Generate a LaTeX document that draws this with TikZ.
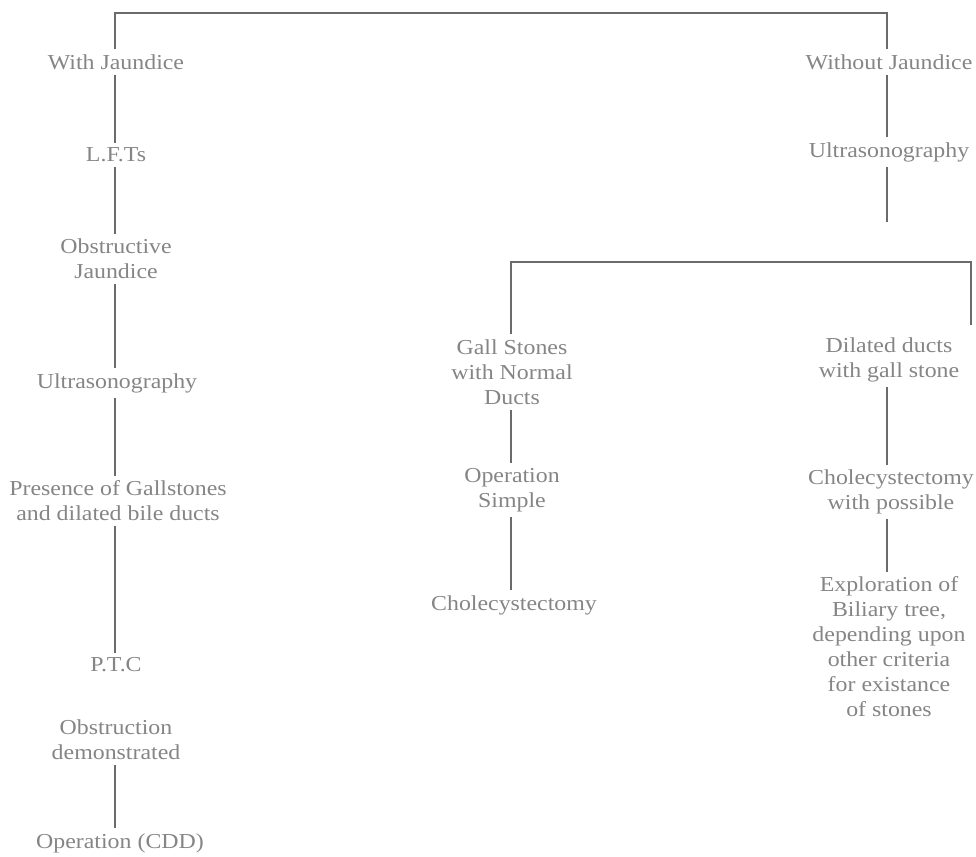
\documentclass[tikz,border=0pt]{standalone}
\usepackage{fontspec}
\setmainfont[FakeStretch=1.12]{Liberation Serif}
\usepackage{tikz}

\begin{document}
\begin{tikzpicture}[x=1pt,y=-1pt,
    txt/.style={text=black!48, font=\fontsize{21.3}{25}\selectfont, align=center, inner sep=5pt},
    link/.style={draw=black!58, line width=1.1pt}]
\useasboundingbox (0,0) rectangle (976,856);
% with jaundice
\node[txt] (wj)   at (116,62)  {With Jaundice};
\node[txt] (lft)  at (116,155) {L.F.Ts};
\node[txt] (obj)  at (116,259) {Obstructive\\Jaundice};
\node[txt] (us1)  at (117,383) {Ultrasonography};
\node[txt] (pres) at (118,501) {Presence of Gallstones\\and dilated bile ducts};
\node[txt] (ptc)  at (116,665) {P.T.C};
\node[txt] (obs)  at (116,740) {Obstruction\\demonstrated};
\node[txt] (cdd)  at (120,843) {Operation (CDD)};
% without jaundice
\node[txt] (woj)  at (889,62)  {Without Jaundice};
\node[txt] (us2)  at (889,152) {Ultrasonography};
\node[txt] (gs)   at (512,372) {Gall Stones\\with Normal\\Ducts};
\node[txt] (ops)  at (512,490) {Operation\\Simple};
\node[txt] (ch1)  at (514,605) {Cholecystectomy};
\node[txt] (dd)   at (889,360) {Dilated ducts\\with gall stone};
\node[txt] (ch2)  at (891,492) {Cholecystectomy\\with possible};
\node[txt] (expl) at (889,647) {Exploration of\\Biliary tree,\\depending upon\\other criteria\\for existance\\of stones};
% brackets and links
\coordinate (tl) at (115,13);
\coordinate (tr) at (887,13);
\coordinate (usend) at (887,222);
\coordinate (bl) at (511,262);
\coordinate (br) at (971,262);
\coordinate (brend) at (971,325);
\draw[link] (wj.north -| tl) -- (tl) -- (tr) -- (woj.north -| tr);
\draw[link] (wj.south -| tl) -- (lft.north -| tl);
\draw[link] (lft.south -| tl) -- (obj.north -| tl);
\draw[link] (obj.south -| tl) -- (us1.north -| tl);
\draw[link] (us1.south -| tl) -- (pres.north -| tl);
\draw[link] (pres.south -| tl) -- (ptc.north -| tl);
\draw[link] (obs.south -| tl) -- (cdd.north -| tl);
\draw[link] (woj.south -| tr) -- (us2.north -| tr);
\draw[link] (us2.south -| tr) -- (usend);
\draw[link] (gs.north -| bl) -- (bl) -- (br) -- (brend);
\draw[link] (gs.south -| bl) -- (ops.north -| bl);
\draw[link] (ops.south -| bl) -- (ch1.north -| bl);
\draw[link] (dd.south -| tr) -- (ch2.north -| tr);
\draw[link] (ch2.south -| tr) -- (expl.north -| tr);
\end{tikzpicture}
\end{document}
